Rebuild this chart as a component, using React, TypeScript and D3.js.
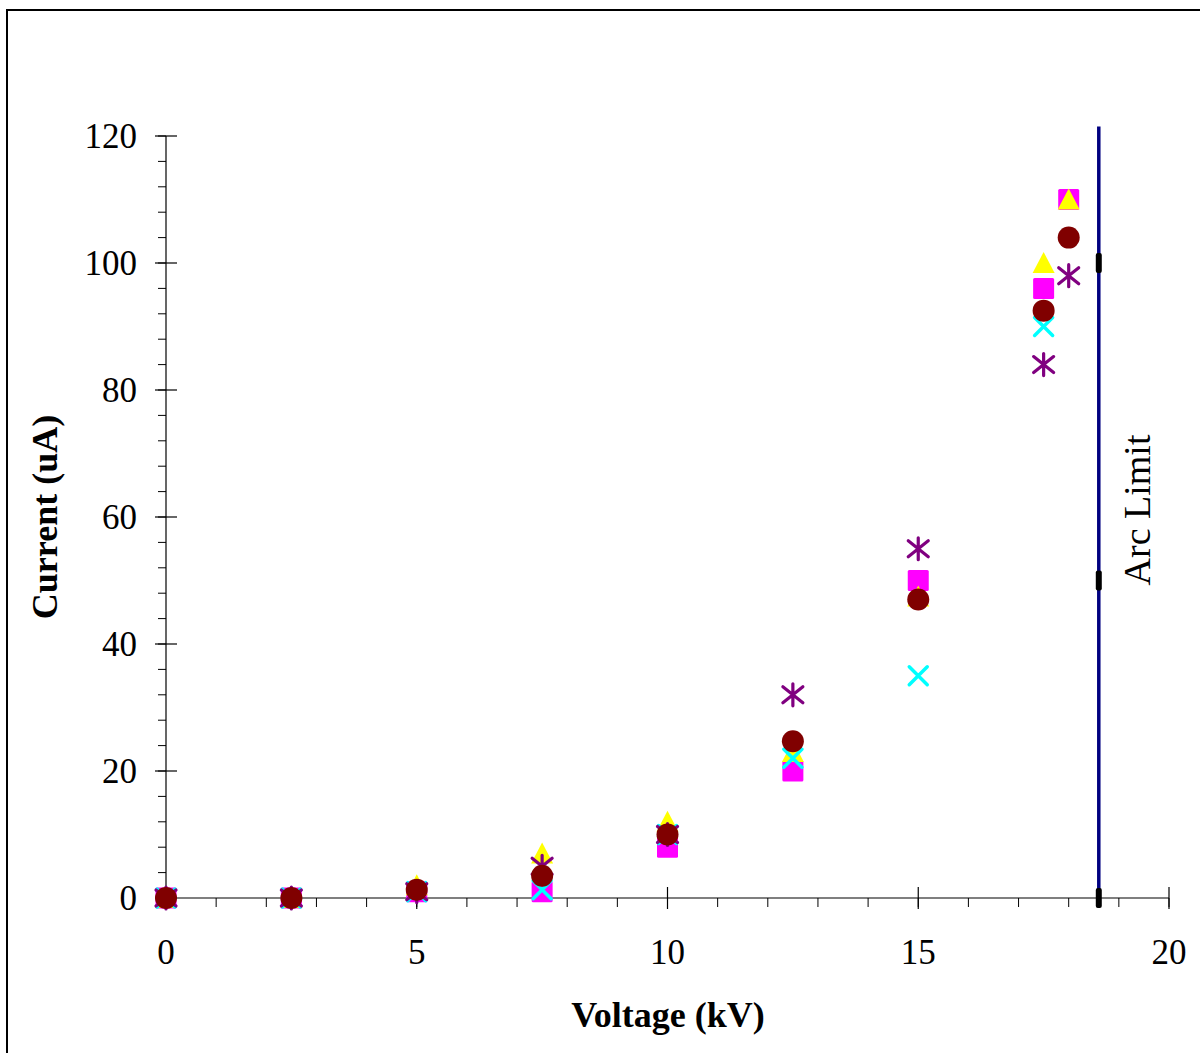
import React from "react";
import * as d3 from "d3";

const voltage = [0, 2.5, 5, 7.5, 10, 12.5, 15, 17.5, 18];
const squareSeries = [0, 0, 1, 1, 8, 20, 50, 96, 110];
const triangleSeries = [0, 0, 2, 7, 12, 23, 47.5, 100, 110];
const crossSeries: (number | null)[] = [0, 0, 1, 1.3, 10, 22, 35, 90, null];
const asteriskSeries = [0, 0, 1, 5, 10, 32, 55, 84, 98];
const circleSeries = [0, 0, 1.3, 3.5, 10, 24.7, 47, 92.5, 104];

const arcLimitVoltage = 18.6;
const arcLimitMarks = [0, 50, 100];
const arcLimitTop = 121.5;

const xTicks = [0, 5, 10, 15, 20];
const yTicks = [0, 20, 40, 60, 80, 100, 120];

const FONT = "'Liberation Serif', 'Times New Roman', serif";

export default function App() {
  const x = d3.scaleLinear().domain([0, 20]).range([166, 1169]);
  const y = d3.scaleLinear().domain([0, 120]).range([898, 136]);

  const xMinor = d3.range(0, 20.001, 1);
  const yMinor = d3.range(0, 120.001, 4);

  const pts = (vals: (number | null)[]) =>
    vals
      .map((v, i) => (v == null ? null : { cx: x(voltage[i]), cy: y(v) }))
      .filter((p): p is { cx: number; cy: number } => p !== null);

  const tri = d3.symbol().type(d3.symbolTriangle);

  return (
    <svg
      width={1200}
      height={1053}
      style={{ position: "absolute", left: 0, top: 0, background: "#fff" }}
    >
      <rect x={0} y={0} width={1200} height={1053} fill="#fff" />
      <rect x={7} y={10} width={1200} height={1100} fill="none" stroke="#000" strokeWidth={2} />

      {/* axes */}
      <line x1={x(0)} x2={x(0)} y1={y(120)} y2={y(0)} stroke="#000" strokeWidth={1.2} />
      <line x1={x(0)} x2={x(20)} y1={y(0)} y2={y(0)} stroke="#000" strokeWidth={1.2} />

      {yMinor.map((t) => (
        <line key={"ym" + t} x1={x(0) - 8} x2={x(0)} y1={y(t)} y2={y(t)} stroke="#000" strokeWidth={1} />
      ))}
      {yTicks.map((t) => (
        <line key={"yM" + t} x1={x(0) - 11} x2={x(0) + 11} y1={y(t)} y2={y(t)} stroke="#000" strokeWidth={1.2} />
      ))}
      {xMinor.map((t) => (
        <line key={"xm" + t} x1={x(t)} x2={x(t)} y1={y(0)} y2={y(0) + 9} stroke="#000" strokeWidth={1} />
      ))}
      {xTicks.map((t) => (
        <line key={"xM" + t} x1={x(t)} x2={x(t)} y1={y(0) - 11} y2={y(0) + 11} stroke="#000" strokeWidth={1.2} />
      ))}

      {yTicks.map((t) => (
        <text key={"yl" + t} x={137} y={y(t)} dy="0.34em" textAnchor="end" fontFamily={FONT} fontSize={35}>
          {t}
        </text>
      ))}
      {xTicks.map((t) => (
        <text key={"xl" + t} x={x(t)} y={964} textAnchor="middle" fontFamily={FONT} fontSize={35}>
          {t}
        </text>
      ))}

      <text x={668} y={1027} textAnchor="middle" fontFamily={FONT} fontSize={36} fontWeight="bold">
        Voltage (kV)
      </text>
      <text
        transform={`translate(57,517) rotate(-90)`}
        textAnchor="middle"
        fontFamily={FONT}
        fontSize={36}
        fontWeight="bold"
      >
        Current (uA)
      </text>

      {/* arc limit */}
      <line
        x1={x(arcLimitVoltage)}
        x2={x(arcLimitVoltage)}
        y1={y(arcLimitTop)}
        y2={y(0)}
        stroke="#000080"
        strokeWidth={3.5}
      />
      {arcLimitMarks.map((m) => (
        <rect key={"al" + m} x={x(arcLimitVoltage) - 3} y={y(m) - 10} width={6} height={20} rx={2} fill="#000" />
      ))}
      <text
        transform={`translate(1150,510) rotate(-90)`}
        textAnchor="middle"
        fontFamily={FONT}
        fontSize={38}
      >
        Arc Limit
      </text>

      {/* series */}
      {pts(squareSeries).map((p, i) => (
        <rect key={"sq" + i} x={p.cx - 10.5} y={p.cy - 10.5} width={21} height={21} rx={1.5} fill="#FF00FF" />
      ))}
      {pts(triangleSeries).map((p, i) => (
        <path
          key={"tr" + i}
          d={`M${p.cx},${p.cy - 11} L${p.cx + 11},${p.cy + 10} L${p.cx - 11},${p.cy + 10} Z`}
          fill="#FFFF00"
        />
      ))}
      {pts(crossSeries).map((p, i) => (
        <path
          key={"cr" + i}
          d={`M${p.cx - 9},${p.cy - 9} L${p.cx + 9},${p.cy + 9} M${p.cx - 9},${p.cy + 9} L${p.cx + 9},${p.cy - 9}`}
          stroke="#00FFFF"
          strokeWidth={3.5}
          strokeLinecap="round"
          fill="none"
        />
      ))}
      {pts(asteriskSeries).map((p, i) => (
        <path
          key={"as" + i}
          d={`M${p.cx},${p.cy - 11} L${p.cx},${p.cy + 11} M${p.cx - 10},${p.cy - 8} L${p.cx + 10},${p.cy + 8} M${p.cx - 10},${p.cy + 8} L${p.cx + 10},${p.cy - 8}`}
          stroke="#800080"
          strokeWidth={3.2}
          strokeLinecap="round"
          fill="none"
        />
      ))}
      {pts(circleSeries).map((p, i) => (
        <circle key={"ci" + i} cx={p.cx} cy={p.cy} r={11} fill="#800000" />
      ))}
    </svg>
  );
}
